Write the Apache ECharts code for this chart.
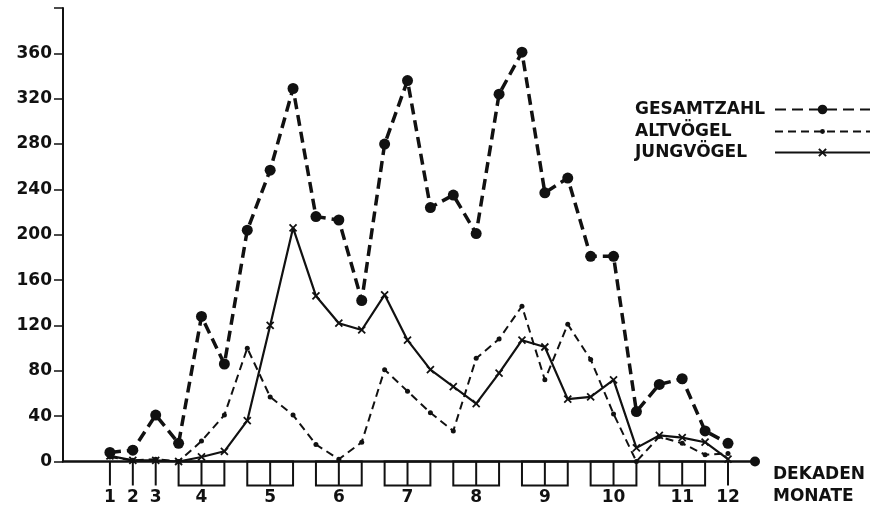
<!DOCTYPE html>
<html>
<head>
<meta charset="utf-8">
<script src="https://cdn.jsdelivr.net/npm/echarts@6/dist/echarts.min.js"></script>
<style>
  html, body { margin: 0; padding: 0; background: #fff; }
  #chart { width: 881px; height: 509px; }
</style>
</head>
<body>
<div id="chart"></div>
<script>
// Dekaden index 0..27 (Monate 1-3 und 12 je ein Wert, 4-11 je drei Dekaden)
var gesamtzahl = [8, 10, 41, 16, 128, 86, 204, 257, 329, 216, 213, 142, 280, 336, 224, 235, 201, 324, 361, 237, 250, 181, 181, 44, 68, 73, 27, 16];
var altvoegel  = [4, 1, 2, 0, 18, 41, 100, 57, 41, 15, 2, 17, 81, 62, 43, 27, 91, 108, 137, 72, 121, 90, 42, 0, 22, 16, 6, 7];
var jungvoegel = [5, 1, 1, 0, 4, 9, 36, 120, 206, 146, 122, 116, 147, 107, 81, 66, 51, 78, 107, 101, 55, 57, 72, 12, 23, 21, 17, 2];

var monthLabels = ['1', '2', '3', '4', '5', '6', '7', '8', '9', '10', '11', '12'];
var monthFirst  = [0, 1, 2, 3, 6, 9, 12, 15, 18, 21, 24, 27];
var monthLast   = [0, 1, 2, 5, 8, 11, 14, 17, 20, 23, 26, 27];
var yTicks = [0, 40, 80, 120, 160, 200, 240, 280, 320, 360];

var seriesNames = ['GESAMTZAHL', 'ALTVÖGEL', 'JUNGVÖGEL'];

function toPairs(values) {
    return values.map(function (v, i) { return [i, v]; });
}

var monthCenters = monthFirst.map(function (f, i) { return (f + monthLast[i]) / 2; });
var boxData = monthFirst.map(function (f, i) { return [f, monthLast[i], 0]; });

var ink = '#111';
var fontName = 'DejaVu Sans';

// one legend block per row, so each sample symbol keeps its own size
function legendRow(name, top, iconHeight) {
    return {
        orient: 'vertical',
        left: 635,
        top: top,
        padding: 0,
        itemWidth: 95,
        itemHeight: iconHeight,
        align: 'right',
        data: [name],
        formatter: function (n) { return '{a|' + n + '}'; },
        textStyle: {
            color: ink,
            rich: {
                a: {
                    width: 135,
                    align: 'left',
                    lineHeight: 20,
                    fontFamily: fontName,
                    fontWeight: 'bold',
                    fontSize: 17,
                    color: ink
                }
            }
        }
    };
}

var chart = echarts.init(document.getElementById('chart'), null, {renderer: 'canvas'});

var option = {
    animation: false,
    backgroundColor: '#fff',
    grid: {left: 63, right: 126, top: 8, bottom: 47.5},
    legend: [
        legendRow(seriesNames[0], 101, 12),
        legendRow(seriesNames[1], 123, 6),
        legendRow(seriesNames[2], 144, 9)
    ],
    xAxis: {
        type: 'value',
        min: -2.05,
        max: 28.18,
        name: 'DEKADEN\nMONATE',
        nameLocation: 'end',
        nameGap: 18,
        nameTextStyle: {
            fontFamily: fontName,
            fontWeight: 'bold',
            fontSize: 17,
            color: ink,
            align: 'left',
            verticalAlign: 'top',
            lineHeight: 22,
            padding: [2, 0, 0, 0]
        },
        axisLine: {
            show: true,
            onZero: false,
            symbol: ['none', 'circle'],
            symbolSize: [10, 10],
            lineStyle: {color: ink, width: 2.5}
        },
        axisTick: {show: false},
        splitLine: {show: false},
        axisLabel: {
            show: true,
            customValues: monthCenters,
            margin: 28,
            fontFamily: fontName,
            fontWeight: 'bold',
            fontSize: 17,
            color: ink,
            formatter: function (value) {
                var idx = monthCenters.indexOf(value);
                return idx >= 0 ? monthLabels[idx] : '';
            }
        }
    },
    yAxis: {
        type: 'value',
        min: 0,
        max: 400,
        interval: 40,
        axisLine: {show: true, onZero: false, lineStyle: {color: ink, width: 2}},
        axisTick: {show: true, length: 9, lineStyle: {color: ink, width: 1.5}},
        splitLine: {show: false},
        axisLabel: {
            margin: 11,
            fontFamily: fontName,
            fontWeight: 'bold',
            fontSize: 17,
            color: ink,
            formatter: function (value) {
                return yTicks.indexOf(value) >= 0 ? String(value) : '';
            }
        }
    },
    series: [
        {
            name: 'DEKADEN-KÄSTCHEN',
            type: 'custom',
            clip: false,
            silent: true,
            encode: {x: [0, 1], y: 2},
            data: boxData,
            renderItem: function (params, api) {
                var a = api.coord([api.value(0), 0]);
                var b = api.coord([api.value(1), 0]);
                var h = 24;
                var st = {stroke: ink, fill: null, lineWidth: 2};
                var children = [];
                if (b[0] - a[0] < 1) {
                    children.push({type: 'line', shape: {x1: a[0], y1: a[1], x2: a[0], y2: a[1] + h}, style: st});
                } else {
                    var m = api.coord([(api.value(0) + api.value(1)) / 2, 0]);
                    children.push({type: 'rect', shape: {x: a[0], y: a[1], width: b[0] - a[0], height: h}, style: st});
                    children.push({type: 'line', shape: {x1: m[0], y1: m[1], x2: m[0], y2: m[1] + h}, style: st});
                }
                return {type: 'group', children: children};
            }
        },
        {
            name: 'ALTVÖGEL',
            type: 'line',
            data: toPairs(altvoegel),
            symbol: 'circle',
            symbolSize: 5,
            itemStyle: {color: ink},
            lineStyle: {color: ink, width: 2, type: [8, 5]},
            z: 3
        },
        {
            name: 'JUNGVÖGEL',
            type: 'line',
            data: toPairs(jungvoegel),
            symbol: 'path://M0,0L10,10M10,0L0,10',
            symbolSize: 7,
            itemStyle: {color: ink, borderColor: ink, borderWidth: 1.8},
            lineStyle: {color: ink, width: 2.2, type: 'solid'},
            z: 4
        },
        {
            name: 'GESAMTZAHL',
            type: 'line',
            data: toPairs(gesamtzahl),
            symbol: 'circle',
            symbolSize: 11,
            itemStyle: {color: ink},
            lineStyle: {color: ink, width: 3.5, type: [11, 6]},
            z: 5
        }
    ]
};

chart.setOption(option);
</script>
</body>
</html>
